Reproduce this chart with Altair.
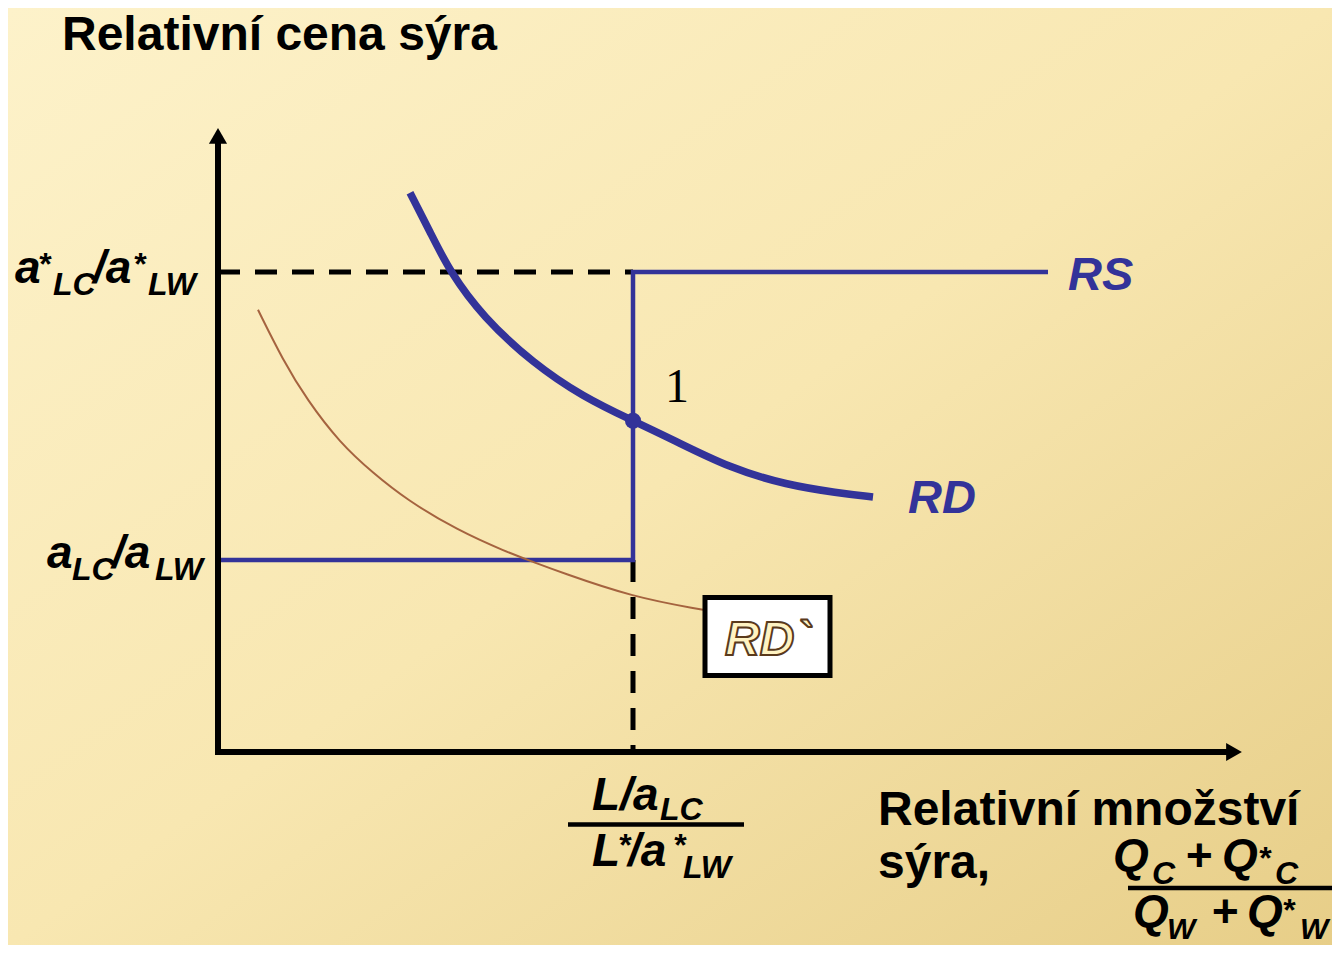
import altair as alt
import pandas as pd

# ---------------- values (schematic units, axis origin = 0,0) ----------------
# RD curve (thick blue)
rd_x = [1.92, 2.12, 2.32, 2.65, 3.15, 3.65, 4.15, 4.52, 5.12, 5.69, 6.19, 6.55]
rd_y = [9.32, 8.67, 8.00, 7.25, 6.48, 5.92, 5.52, 5.23, 4.73, 4.45, 4.32, 4.25]
# RD` curve (thin brown)
rd2_x = [0.40, 0.65, 0.89, 1.22, 1.55, 1.89, 2.39, 2.89, 3.15, 3.42, 4.15, 4.85]
rd2_y = [7.37, 6.53, 5.87, 5.15, 4.65, 4.20, 3.70, 3.33, 3.17, 3.00, 2.58, 2.37]
# RS step: a_LC/a_LW, a*_LC/a*_LW, (L/a_LC)/(L*/a*_LW), end of RS
price_low = 3.2
price_high = 8.0
q_kink = 4.15
rs_end = 8.30
rs_x = [0.0, q_kink, q_kink, rs_end]
rs_y = [price_low, price_low, price_high, price_high]
# equilibrium point 1
eq_x = [4.15]
eq_y = [5.52]
# axis extents
x_axis_end = 10.16
y_axis_end = 10.27

# view geometry (schematic units -> the whole drawing)
W, H = 1324, 937
X_DOM = [-2.10, 11.14]
Y_DOM = [-3.2167, 12.4]

BLUE = "#333399"
BROWN = "#A5633F"
SANS = "Liberation Sans, Arial, Helvetica, sans-serif"
SERIF = "Liberation Serif, Times New Roman, serif"

xs = alt.Scale(domain=X_DOM, nice=False, zero=False)
ys = alt.Scale(domain=Y_DOM, nice=False, zero=False)


def X(f="x"):
    return alt.X(f"{f}:Q", scale=xs, axis=None)


def Y(f="y"):
    return alt.Y(f"{f}:Q", scale=ys, axis=None)


one = pd.DataFrame({"k": [0]})

# background
grad = alt.Gradient(
    gradient="linear",
    stops=[
        alt.GradientStop(offset=0, color="#FDF2CA"),
        alt.GradientStop(offset=0.5, color="#F8E7B1"),
        alt.GradientStop(offset=1, color="#E7CE88"),
    ],
    x1=0, y1=0, x2=1, y2=1,
)
bg = alt.Chart(one).mark_rect(color=grad).encode(
    x=alt.value(0), x2=alt.value(W), y=alt.value(0), y2=alt.value(H)
)

# dashed guides
dash_df = pd.DataFrame({
    "x": [0.0, q_kink], "x2": [q_kink, q_kink],
    "y": [price_high, price_low], "y2": [price_high, 0.0],
})
dashes = alt.Chart(dash_df).mark_rule(color="black", strokeWidth=5, strokeDash=[22, 15]).encode(
    x=X(), x2="x2:Q", y=Y(), y2="y2:Q"
)

# RS
rs_df = pd.DataFrame({"x": rs_x, "y": rs_y, "o": list(range(len(rs_x)))})
rs = alt.Chart(rs_df).mark_line(color=BLUE, strokeWidth=4.5, strokeJoin="miter").encode(
    x=X(), y=Y(), order="o:Q"
)

# RD`
rd2_df = pd.DataFrame({"x": rd2_x, "y": rd2_y})
rd2 = alt.Chart(rd2_df).mark_line(color=BROWN, strokeWidth=2, interpolate="basis").encode(
    x=X(), y=Y(), order="x:Q"
)

# RD
rd_df = pd.DataFrame({"x": rd_x, "y": rd_y})
rd = alt.Chart(rd_df).mark_line(color=BLUE, strokeWidth=7.5, interpolate="basis").encode(
    x=X(), y=Y(), order="x:Q"
)

# equilibrium point
eq = alt.Chart(pd.DataFrame({"x": eq_x, "y": eq_y})).mark_point(
    filled=True, size=260, color=BLUE, opacity=1
).encode(x=X(), y=Y())

# axes
ax_df = pd.DataFrame({
    "x": [0.0, -0.03], "x2": [0.0, x_axis_end - 0.05],
    "y": [-0.05, 0.0], "y2": [y_axis_end - 0.05, 0.0],
})
axes = alt.Chart(ax_df).mark_rule(color="black", strokeWidth=6).encode(
    x=X(), x2="x2:Q", y=Y(), y2="y2:Q"
)
arrow_up = alt.Chart(pd.DataFrame({"x": [0.0], "y": [y_axis_end]})).mark_point(
    shape="triangle-up", filled=True, size=330, color="black", opacity=1
).encode(x=X(), y=Y())
arrow_right = alt.Chart(pd.DataFrame({"x": [x_axis_end], "y": [0.0]})).mark_point(
    shape="triangle-right", filled=True, size=330, color="black", opacity=1
).encode(x=X(), y=Y())

# RD` label box
box = alt.Chart(pd.DataFrame({"x": [4.87], "x2": [6.12], "y": [2.575], "y2": [1.275]})).mark_rect(
    fill="white", stroke="black", strokeWidth=5
).encode(x=X(), x2="x2:Q", y=Y(), y2="y2:Q")
box_text = alt.Chart(pd.DataFrame({"t": ["RD`"], "x": [5.07], "y": [1.617]})).mark_text(
    font=SANS, fontSize=48, fontWeight="bold", fontStyle="italic", align="left",
    baseline="alphabetic", fill="#FFF3C2", stroke="#5A3A1C", strokeWidth=2
).encode(x=X(), y=Y(), text="t:N")

# fraction bars
bar_df = pd.DataFrame({"x": [3.50, 9.10], "x2": [5.26, 11.14], "y": [-1.208, -2.267]})
bars = alt.Chart(bar_df).mark_rule(color="black", strokeWidth=4.5).encode(
    x=X(), x2="x2:Q", y=Y()
)

# texts
upright = pd.DataFrame({
    "t": ["Relativní cena sýra", "Relativní množství", "sýra,"],
    "x": [-1.56, 6.60, 6.60],
    "y": [11.70, -1.217, -2.10],
})
big_it = pd.DataFrame({
    "t": ["a", "/a", "a", "/a", "L/a", "L", "/a", "Q", "+", "Q", "Q", "+", "Q"],
    "x": [-2.03, -1.25, -1.71, -1.06, 3.74, 3.74, 4.10, 8.95, 9.67, 10.04, 9.15, 9.93, 10.29],
    "y": [7.817, 7.817, 3.067, 3.067, -0.967, -1.90, -1.90,
          -1.983, -1.983, -1.983, -2.917, -2.917, -2.917],
})
small_it = pd.DataFrame({
    "t": ["*", "LC", "*", "LW", "LC", "LW", "LC", "*", "*", "LW",
          "C", "*", "C", "W", "*", "W"],
    "x": [-1.80, -1.65, -0.85, -0.70, -1.46, -0.63, 4.42, 4.00, 4.55, 4.65,
          9.34, 10.40, 10.57, 9.49, 10.64, 10.82],
    "y": [7.95, 7.617, 7.95, 7.617, 2.867, 2.867, -1.133, -1.733, -1.733, -2.10,
          -2.20, -1.95, -2.20, -3.117, -2.817, -3.117],
    "s": [32, 32, 32, 32, 32, 32, 32, 32, 32, 32,
          32, 32, 32, 30, 32, 30],
})
blue_lbl = pd.DataFrame({"t": ["RS", "RD"], "x": [8.50, 6.90], "y": [7.70, 3.983]})
one_lbl = pd.DataFrame({"t": ["1"], "x": [4.47], "y": [5.833]})

t_up = alt.Chart(upright).mark_text(
    font=SANS, fontSize=48, fontWeight="bold", align="left", baseline="alphabetic", color="black"
).encode(x=X(), y=Y(), text="t:N")
t_big = alt.Chart(big_it).mark_text(
    font=SANS, fontSize=46, fontWeight="bold", fontStyle="italic", align="left",
    baseline="alphabetic", color="black"
).encode(x=X(), y=Y(), text="t:N")
t_small = alt.Chart(small_it).mark_text(
    font=SANS, fontWeight="bold", fontStyle="italic", align="left",
    baseline="alphabetic", color="black"
).encode(x=X(), y=Y(), text="t:N", size=alt.Size("s:Q", scale=None, legend=None))
t_blue = alt.Chart(blue_lbl).mark_text(
    font=SANS, fontSize=47, fontWeight="bold", fontStyle="italic", align="left",
    baseline="alphabetic", color=BLUE
).encode(x=X(), y=Y(), text="t:N")
t_one = alt.Chart(one_lbl).mark_text(
    font=SERIF, fontSize=48, align="left", baseline="alphabetic", color="black"
).encode(x=X(), y=Y(), text="t:N")

chart = alt.layer(
    bg, dashes, rs, rd2, rd, eq, axes, arrow_up, arrow_right, box, box_text, bars,
    t_up, t_big, t_small, t_blue, t_one,
).properties(
    width=W, height=H, padding=0, autosize=alt.AutoSizeParams(type="none")
).configure_view(stroke=None).configure(background="#FBEDC0")

chart.save("out.html", embed_options={"renderer": "svg", "actions": False})
